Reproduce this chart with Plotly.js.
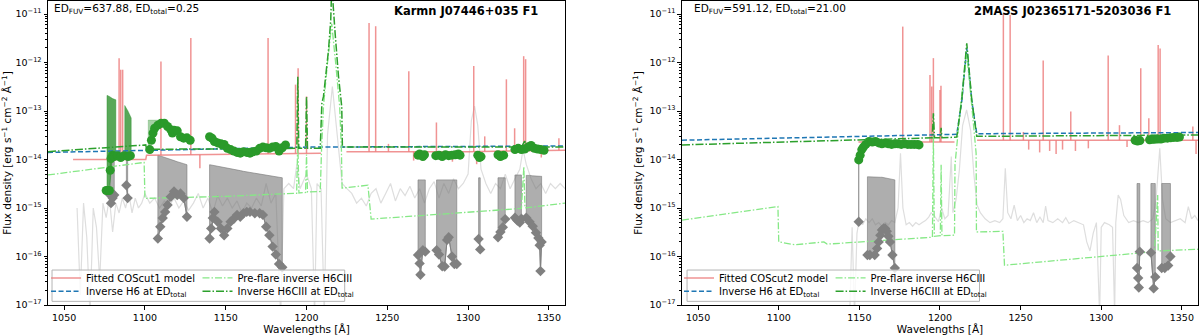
<!DOCTYPE html>
<html>
<head>
<meta charset="utf-8">
<script src="https://cdn.plot.ly/plotly-3.0.1.min.js"></script>
<style>
  body { margin: 0; background: #fff; }
  #chart { width: 1200px; height: 335px; }
</style>
</head>
<body>
<div id="chart"></div>
<script>
// ---------- left panel: Karmn J07446+035 F1 ----------
var leftSpecX = [1058,1060,1062,1064,1066,1068,1070,1072,1074,1076,1078,1080,1082,1084,1086,1088,1090,1092,1094,1096,1098,1100,
  1103,1106,1109,1112,1115,1118,1121,1124,1127,1130,1133,1136,1139,1142,1145,1148,1151,1154,1157,1160,1163,1166,1169,1172,1175,1178,1181,
  1184,1186,1189,1192,1194,1196,1200,1203,1205,1206.5,1209,1211,1213,1216,1219,1222,
  1225,1228,1231,1234,1237,1240,1243,1246,1249,1252,1255,1258,1261,1264,1267,1270,1273,1276,1279,1282,1285,1288,1291,1294,1297,1300,
  1302,1304,1306,1308,
  1311,1314,1317,1320,1323,1326,1329,1332,
  1334,1336,
  1339,1342,1345,1348,1351,1354,1357,1360];
var leftSpecY = [1e-15,1.6e-17,1.26e-15,2.5e-16,6e-18,1e-15,4e-16,3.2e-17,1.26e-15,6.3e-16,1.6e-15,3.2e-16,1.26e-15,7.9e-16,1.6e-15,1e-15,2e-15,7.9e-16,1.6e-15,1e-15,1.26e-15,2e-15,
  1.26e-15,1.6e-15,1e-15,1.4e-15,1.1e-15,1.6e-15,1e-15,1.4e-15,9e-16,1.26e-15,2e-15,1e-15,1.6e-15,7.9e-16,1.8e-15,1.1e-15,1.6e-15,1e-15,1.4e-15,7.9e-16,1.26e-15,1e-15,1.6e-15,1.1e-15,3.2e-15,1.26e-15,2e-15,
  6e-18,2.5e-15,3.2e-15,2.5e-15,7.9e-15,2.5e-15,5e-15,2.5e-15,6e-18,3.2e-15,2.5e-15,6e-18,3.2e-14,3.2e-13,3.2e-14,3.2e-15,
  2.5e-15,2e-15,1.26e-15,1.6e-15,1.1e-15,2e-15,2.5e-15,1.26e-15,2e-15,3.2e-15,1.4e-15,2.5e-15,1.8e-15,2.8e-15,1.6e-15,2.5e-15,1.26e-15,2.5e-15,3.5e-15,1.6e-15,3.2e-15,2e-15,4e-15,2.5e-15,3.2e-15,5e-15,
  6.3e-14,1.26e-13,5e-14,6.3e-15,
  3.2e-15,2e-15,3.2e-15,2.5e-15,5e-15,2.5e-15,4e-15,6.3e-15,
  1.6e-14,7.9e-15,
  4e-15,2.5e-15,3.2e-15,2e-15,3.2e-15,2.5e-15,3.2e-15,2.5e-15];

var leftRedX = [1055.5, 1100.5, 1101, 1209, null, 1224.7, 1300, 1360];
var leftRedY = [1.0e-14, 1.0e-14, 1.23e-14, 1.35e-14, null, 1.45e-14, 1.45e-14, 1.55e-14];
var leftLineX = [1084, 1085, 1086.2, 1109.9, 1128.4, 1134, 1176.2, 1193.2, 1194.8, 1200, 1238.7, 1242.8, 1250.7,
  1263.3, 1266.3, 1280.4, 1290.3, 1303.5, 1305.3, 1310.3, 1323.7, 1328.8, 1334.4, 1335.6, 1345.3, 1356.2];
var leftLineBase = [1.0e-14, 1.0e-14, 1.0e-14, 1.23e-14, 1.25e-14, 1.25e-14, 1.3e-14, 1.33e-14, 1.33e-14, 1.34e-14, 1.45e-14, 1.45e-14, 1.45e-14,
  1.45e-14, 1.45e-14, 1.45e-14, 1.45e-14, 1.45e-14, 1.45e-14, 1.47e-14, 1.5e-14, 1.5e-14, 1.5e-14, 1.5e-14, 1.52e-14, 1.55e-14];
var leftLinePeak = [1.23e-12, 7.1e-13, 7.1e-13, 1.05e-12, 3.2e-12, 6.6e-15, 3.2e-12, 3.5e-13, 7.6e-13, 2.0e-13, 6.5e-12, 5.6e-12, 2.1e-14,
  6.6e-13, 9.5e-15, 5.8e-14, 9e-15, 8.5e-13, 8e-15, 3.0e-14, 4.5e-13, 4.4e-14, 1.35e-12, 1.17e-12, 1.1e-14, 2.75e-14];

var leftH6X = [1040, 1200, 1360];
var leftH6Y = [1.4e-14, 1.8e-14, 1.9e-14];

var leftH6C3X = [1040, 1100.5, 1101, 1190, 1194, 1194.6, 1195.2, 1199.4, 1200, 1200.6, 1208.5, 1209.5, 1210.5,
  1213.6, 1215, 1215.6, 1216.4, 1217.7, 1219.8, 1221.2, 1221.8, 1222.2, 1333, 1335, 1337, 1360];
var leftH6C3Y = [1.45e-14, 2.0e-14, 1.62e-14, 1.7e-14, 1.7e-14, 5.1e-13, 1.7e-14, 1.7e-14, 2.0e-13, 1.7e-14, 1.7e-14, 1.45e-13, 2.0e-13,
  1.8e-12, 7.6e-12, 4.0e-11, 1.5e-11, 4.0e-12, 5.1e-13, 1.45e-13, 1.23e-13, 1.8e-14, 1.8e-14, 2.4e-14, 1.8e-14, 1.82e-14];

var leftPreC3X = [1040, 1099.5, 1100, 1150, 1192, 1193.9, 1194.6, 1195.3, 1199.4, 1200, 1200.6, 1208.5, 1209.3,
  1210.5, 1213, 1215.6, 1218, 1220.5, 1221.6, 1222, 1238, 1240, 1333, 1334.5, 1335.2, 1360];
var leftPreC3Y = [4.8e-15, 8.7e-15, 1.58e-15, 1.74e-15, 2.0e-15, 2.0e-15, 2.5e-14, 2.04e-15, 2.09e-15, 1.26e-14, 2.14e-15, 2.19e-15, 1.58e-14,
  1.26e-13, 1.0e-12, 6.3e-12, 1.0e-12, 1.26e-13, 1.58e-14, 2.57e-15, 2.95e-15, 5.9e-16, 9.8e-16, 7.1e-15, 1.0e-15, 1.26e-15];

var leftFlareX = [1076,1077,1078,1078.5,1079,1080,1081,1083,1085,1087,1089.5,1091,
  1103,1104,1105,1106,1108,1110,1112,1114,1116,1117,1118,1120,1122,1124,1126,1128,
  1140,1141.5,1143,1145,1147,1149,1151,1153,1155,1157,1159,1161,1163,1165,1167,1169,1171,1173,1175,1177,1179,1181,1183,1185,1187,
  1269,1270,1271,1272,1273,
  1280,1282,1284,1286,1288,1290,1292,1294,1295,
  1306,1307,1308,
  1318.5,1320,1322,
  1329,1331,1333,1335,1337,1339,1341,1343,1345,1347];
var leftFlareY = [2.3e-15,2.3e-15,2.3e-15,6e-15,1.05e-14,1.23e-14,1.15e-14,1.2e-14,1.1e-14,1.2e-14,1.15e-14,1.2e-14,
  1.6e-14,2.5e-14,3.5e-14,4.4e-14,5.1e-14,5.6e-14,5.6e-14,4.8e-14,4.1e-14,3.5e-14,4e-14,3.9e-14,2.95e-14,2.75e-14,2.8e-14,2.5e-14,
  2.95e-14,2.75e-14,2.35e-14,2.2e-14,2.1e-14,2.05e-14,1.7e-14,1.6e-14,1.5e-14,1.4e-14,1.35e-14,1.45e-14,1.4e-14,1.35e-14,1.45e-14,1.5e-14,1.7e-14,1.8e-14,1.75e-14,1.7e-14,1.8e-14,1.85e-14,1.5e-14,1.75e-14,2e-14,
  1.23e-14,1.3e-14,1.23e-14,1.15e-14,1.25e-14,
  1.2e-14,1.23e-14,1.15e-14,1.25e-14,1.2e-14,1.23e-14,1.25e-14,1.3e-14,1.23e-14,
  1.23e-14,1.1e-14,1.15e-14,
  1.25e-14,1.15e-14,1.23e-14,
  1.6e-14,1.7e-14,1.6e-14,1.65e-14,1.8e-14,1.95e-14,1.7e-14,1.65e-14,1.6e-14,1.55e-14];

var leftErrX = [1076.5, 1078, 1080, 1082, null, 1087.5, 1089.5, 1091.5];
var leftErrLo = [2.3e-15, 2.3e-15, 1.2e-14, 1.1e-14, null, 1.15e-14, 1.15e-14, 1.1e-14];
var leftErrHi = [2.1e-13, 2.0e-13, 1.8e-13, 1.7e-13, null, 1.3e-13, 1.0e-13, 7.2e-14];
var leftErr2X = [1102, 1105, 1108];
var leftErr2Lo = [1.6e-14, 3.5e-14, 5.1e-14];
var leftErr2Hi = [6.5e-14, 6.5e-14, 6.5e-14];

var leftPreX = [1078.5,1079,1080,1081,null, 1088.5,1089.3,null,
  1108,1109.5,1111,1112.5,1114,1116,1118,1120,1122,1124,1126,null,
  1140,1141,1142,1143,1145,1147,1149,1151,1153,1155,1157,1159,1161,1163,1165,1168,1171,1173,1175,1177,1179,1181,1183,1185,null,
  1269,1270,1270.5,1272,1273.5,null,
  1280.5,1282,1284,1285.5,1287,1288,1290,1291.5,1293,null,
  1306.5,1307.5,null,
  1318.5,1320,1321.5,1323,null,
  1329,1330.5,1332,1333,null,
  1336,1338,1340,1342,1343.5,1344.3,1344.8,1345.5];
var leftPreY = [1.86e-15,1.26e-15,1.6e-15,1.86e-15,null, 2.95e-15,1.6e-15,null,
  2.35e-16,4.1e-16,6.2e-16,8.3e-16,1.15e-15,1.7e-15,2.2e-15,1.86e-15,2e-15,1.6e-15,6.6e-16,null,
  2.35e-16,3.8e-16,6.2e-16,8.3e-16,5.2e-16,3.8e-16,2.75e-16,3.8e-16,5.2e-16,6e-16,7.2e-16,6.6e-16,7.8e-16,8.3e-16,8.3e-16,7.8e-16,7.8e-16,7.2e-16,4.1e-16,2.75e-16,1.6e-16,1.1e-16,7e-17,6e-17,null,
  1.07e-16,7.2e-17,4.2e-17,1.35e-16,1.26e-16,null,
  1.35e-16,1.1e-16,6.3e-17,6.2e-17,2.2e-16,2.5e-16,1e-16,7e-17,7e-17,null,
  2.3e-16,1.4e-16,null,
  2.5e-16,3.2e-16,4e-16,5.9e-16,null,
  6.3e-16,5.5e-16,5e-16,6e-16,null,
  6.3e-16,5.2e-16,4.2e-16,3.1e-16,2.4e-16,1.7e-16,5e-17,2e-16];
var leftPreHi = [9e-15,9e-15,9e-15,9e-15,null, 1.2e-14,1.2e-14,null,
  1.23e-14,1.2e-14,1.15e-14,1.1e-14,1.05e-14,1e-14,9.5e-15,9e-15,8.5e-15,8.2e-15,7.8e-15,null,
  7.8e-15,7.7e-15,7.6e-15,7.5e-15,7.3e-15,7.1e-15,6.9e-15,6.7e-15,6.5e-15,6.3e-15,6.1e-15,5.9e-15,5.7e-15,5.5e-15,5.3e-15,5.1e-15,4.9e-15,4.8e-15,4.7e-15,4.6e-15,4.5e-15,4.4e-15,4.3e-15,4.2e-15,null,
  3.8e-15,3.8e-15,3.8e-15,3.8e-15,3.8e-15,null,
  3.8e-15,3.8e-15,3.8e-15,3.8e-15,3.8e-15,3.8e-15,3.8e-15,3.8e-15,3.8e-15,null,
  4.2e-15,4.2e-15,null,
  4.2e-15,4.2e-15,4.2e-15,4.2e-15,null,
  4.8e-15,4.8e-15,4.8e-15,4.8e-15,null,
  4.7e-15,4.7e-15,4.6e-15,4.6e-15,4.5e-15,4.5e-15,4.5e-15,4.5e-15];

// ---------- right panel: 2MASS J02365171-5203036 F1 ----------
var rightSpecX = [1144,1145.5,1147,1148.5,1150,
  1152,1154,1156,1158,1160,1162,1164,1166,1168,1170,1172,
  1174,1175.5,1177,
  1179,1181,1183,1185,1187,1189,1191,1193,
  1194.5,1196,
  1199,1201,1203,1205,1207,1208,1210,1212,1214,1216.5,1219,1221,1223,1225,
  1228,1231,1234,1237,
  1239,1240.5,1242,1244,1246,1248,1250,1252,1254,1256,1258,1260,1262,1264,
  1265.5,1267,
  1270,1273,1276,1278,1280,1283,1286,1289,1291,1293,1295,1297,1299,1300,1302,1305,1307,1308.3,1309,1310.5,1312,1314,
  1317,1320,1323,1326,1329,1332,1334,1336.3,1338,1340,1343,1346,1349,1352,1354,1356,1358,1360];
var rightSpecY = [6e-18,4e-16,6e-18,3e-16,6e-16,
  4.5e-16,6e-16,5e-16,6e-16,4.5e-16,5e-16,4.2e-16,5e-16,4.5e-16,5.5e-16,5e-16,
  1e-15,1.35e-14,1e-15,
  4.5e-16,5e-16,4.2e-16,5e-16,4.5e-16,5e-16,5.5e-16,6.5e-16,
  8e-16,7.3e-16,
  5.2e-16,1e-15,6e-16,7e-16,1.15e-14,8e-16,1.5e-15,6e-15,5e-14,1.05e-13,4e-14,5e-15,1.15e-15,8e-16,
  6e-16,5e-16,5.5e-16,5e-16,
  6e-16,6.6e-15,8e-16,6e-16,1.15e-15,5.5e-16,7e-16,5e-16,6e-16,5.5e-16,8e-16,5e-16,6.5e-16,5e-16,
  1.1e-15,5.5e-16,
  5e-16,6e-16,5e-16,6.3e-16,4.8e-16,5.5e-16,5e-16,4.5e-16,2e-16,1.3e-16,3e-16,5e-16,6e-18,4e-16,5e-16,4.5e-16,4e-16,6e-18,5e-16,1.86e-15,1.5e-15,7e-16,
  5e-16,5.5e-16,5e-16,5.5e-16,5e-16,6e-16,1.5e-15,1.7e-14,1.5e-15,6e-16,5e-16,5.5e-16,6e-16,5e-16,1.07e-15,6e-16,7e-16,5.5e-16];

var rightRedX = [1149.4, 1209, null, 1223, 1360];
var rightRedY = [2.3e-14, 2.3e-14, null, 2.5e-14, 2.5e-14];
var rightLineX = [1176.9, 1193.8, 1194.9, 1195.9, 1200, 1200.6, 1239.3, 1243.5, 1251.7, 1255, 1261.8, 1264, 1268, 1272,
  1276, 1281.1, 1284, 1292, 1304.3, 1311.3, 1316, 1324.5, 1329.5, 1335.3, 1336.5, 1356.8, 1358.8];
var rightLineBase = [2.3e-14, 2.3e-14, 2.3e-14, 2.3e-14, 2.3e-14, 2.3e-14, 2.5e-14, 2.5e-14, 2.5e-14, 2.5e-14, 2.5e-14, 2.5e-14, 2.5e-14, 2.5e-14,
  2.5e-14, 2.5e-14, 2.5e-14, 2.5e-14, 2.5e-14, 2.5e-14, 2.5e-14, 2.5e-14, 2.5e-14, 2.5e-14, 2.5e-14, 2.5e-14, 2.5e-14];
var rightLinePeak = [5.5e-12, 5.5e-13, 3.2e-13, 1.23e-12, 2.7e-13, 3.3e-13, 1.0e-11, 9.5e-12, 3.7e-14, 1.6e-14, 1.4e-14, 1.1e-12, 1.5e-14, 1.3e-14,
  1.6e-14, 9.8e-14, 1.5e-14, 1.7e-14, 1.4e-12, 5.1e-14, 1.8e-14, 7.6e-13, 7.1e-14, 2.3e-12, 1.95e-12, 4.8e-14, 1.3e-14];

var rightH6X = [1040, 1200, 1210.4, 1213.5, 1215.3, 1216.6, 1217.9, 1219.7, 1222.8, 1360];
var rightH6Y = [2.5e-14, 3.2e-14, 3.3e-14, 1.6e-13, 7.0e-13, 2.0e-12, 7.0e-13, 1.6e-13, 3.4e-14, 3.6e-14];

var rightH6C3X = [1040, 1190, 1195.2, 1195.9, 1196.6, 1200.2, 1200.7, 1201.2, 1210.4, 1213.5, 1215.3, 1216.6, 1217.9, 1219.7, 1222.8, 1360];
var rightH6C3Y = [2.0e-14, 2.8e-14, 2.8e-14, 9.0e-14, 2.8e-14, 2.8e-14, 4.5e-14, 2.8e-14, 2.9e-14, 1.7e-13, 8.1e-13, 2.5e-12, 8.1e-13, 1.7e-13, 3.0e-14, 3.2e-14];

var rightPreC3X = [1040, 1099.5, 1100, 1110, 1128, 1130, 1195.3, 1195.9, 1196.5, 1200.2, 1200.7, 1201.2, 1209, 1209.3,
  1213, 1216.6, 1219.5, 1222.4, 1222.6, 1239, 1240, 1333, 1335, 1335.3, 1360];
var rightPreC3Y = [5.6e-16, 1.07e-15, 2.0e-16, 1.74e-16, 2.0e-16, 1.8e-16, 2.5e-16, 3.0e-14, 2.6e-16, 2.7e-16, 7.8e-15, 2.7e-16, 2.75e-16, 7.8e-15,
  1.5e-13, 1.5e-12, 1.5e-13, 1.35e-14, 3.2e-16, 3.3e-16, 6.6e-17, 1.26e-16, 1.86e-15, 1.3e-16, 1.41e-16];

var rightFlareX = [1149.6,1150.5,1151.5,1152.5,1154,1156,1158,1160,1162,1164,1166,1168,1170,1172,1174,1176,1178,1180,1182,1184,1186,1187,
  1321,1322.5,1324,
  1330,1331.5,1333,1335,1337,1339,1341,1343,1345,1347,1348.5];
var rightFlareY = [9.8e-15,1.23e-14,1.6e-14,1.8e-14,2.05e-14,2.35e-14,2.3e-14,2.35e-14,2.2e-14,2.1e-14,2.2e-14,2.1e-14,2.05e-14,2.1e-14,2.1e-14,2.05e-14,2.1e-14,2.05e-14,2.05e-14,2.05e-14,2.05e-14,2e-14,
  2.5e-14,2.4e-14,2.45e-14,
  2.55e-14,2.6e-14,2.6e-14,2.65e-14,2.65e-14,2.75e-14,2.75e-14,2.8e-14,2.85e-14,2.85e-14,2.9e-14];

var rightPreX = [1149.6,null,
  1155,1156.5,1159.5,1161,1162,1163,1164,1165,1166,1167,1168,1169,1170.5,1172,null,
  1322.2,1322.9,1323.3,1323.9,null,
  1330.8,1332.5,1333.5,null,
  1337.5,1339.4,1341.5,1342.9];
var rightPreY = [5.2e-16,null,
  1.07e-16,1.07e-16,1.07e-16,1.47e-16,2e-16,2.75e-16,3.5e-16,3.8e-16,3.8e-16,3.3e-16,2.6e-16,2e-16,1.07e-16,5.8e-17,null,
  5.8e-17,3.6e-17,2.3e-17,1.26e-16,null,
  1.2e-16,2.2e-17,3.8e-17,null,
  5.8e-17,5.8e-17,6.5e-17,1e-16];
var rightPreHi = [9.8e-15,null,
  4.4e-15,4.4e-15,4.4e-15,4.4e-15,4.3e-15,4.3e-15,4.3e-15,4.2e-15,4.2e-15,4.1e-15,4.1e-15,4e-15,3.9e-15,3.8e-15,null,
  3.2e-15,3.2e-15,3.2e-15,3.2e-15,null,
  3.2e-15,3.2e-15,3.2e-15,null,
  3.2e-15,3.2e-15,3.2e-15,3.2e-15];

var yTickVals = [1e-17, 1e-16, 1e-15, 1e-14, 1e-13, 1e-12, 1e-11];
var yTickText = ["10<sup>−17</sup>", "10<sup>−16</sup>", "10<sup>−15</sup>", "10<sup>−14</sup>",
  "10<sup>−13</sup>", "10<sup>−12</sup>", "10<sup>−11</sup>"];
var xTickVals = [1050, 1100, 1150, 1200, 1250, 1300, 1350];

// fill_between style polygons, one per null-separated segment
function bands(x, lo, hi) {
  var px = [], py = [], sx = [], sl = [], sh = [];
  function flush() {
    if (sx.length) {
      px = px.concat(sx, sx.slice().reverse(), [sx[0], null]);
      py = py.concat(sl, sh.slice().reverse(), [sl[0], null]);
    }
    sx = []; sl = []; sh = [];
  }
  for (var i = 0; i < x.length; i++) {
    if (x[i] === null) { flush(); continue; }
    sx.push(x[i]); sl.push(lo[i]); sh.push(hi[i]);
  }
  flush();
  return { x: px, y: py };
}

function spikes(x, base, peak) {
  var sx = [], sy = [];
  for (var i = 0; i < x.length; i++) {
    sx.push(x[i], x[i], null);
    sy.push(base[i], peak[i], null);
  }
  return { x: sx, y: sy };
}

var redCol = "rgba(236,120,120,0.8)";
var grayFill = "rgba(120,120,120,0.6)";

// legs: [model, pre-flare, H6, H6CIII] -> one small legend each (2x2 grid like matplotlib ncol=2)
function panel(xa, ya, legs, modelName, d) {
  var out = [];
  out.push({ x: d.specX, y: d.specY, xaxis: xa, yaxis: ya, mode: "lines", showlegend: false,
    line: { color: "#dedede", width: 1.2 }, hoverinfo: "skip" });
  var gb = bands(d.preX, d.preY, d.preHi);
  out.push({ x: gb.x, y: gb.y, xaxis: xa, yaxis: ya, mode: "lines", fill: "toself", fillcolor: grayFill,
    line: { color: grayFill, width: 1 }, showlegend: false, hoverinfo: "skip" });
  if (d.errX) {
    var eb = bands(d.errX, d.errLo, d.errHi);
    out.push({ x: eb.x, y: eb.y, xaxis: xa, yaxis: ya, mode: "lines", fill: "toself", fillcolor: "rgba(34,139,34,0.75)",
      line: { color: "rgba(34,139,34,0.75)", width: 0.5 }, showlegend: false, hoverinfo: "skip" });
    var eb2 = bands(d.err2X, d.err2Lo, d.err2Hi);
    out.push({ x: eb2.x, y: eb2.y, xaxis: xa, yaxis: ya, mode: "lines", fill: "toself", fillcolor: "rgba(34,139,34,0.4)",
      line: { color: "rgba(34,139,34,0.4)", width: 0.5 }, showlegend: false, hoverinfo: "skip" });
  }
  var sp = spikes(d.lineX, d.lineBase, d.linePeak);
  out.push({ x: sp.x, y: sp.y, xaxis: xa, yaxis: ya, mode: "lines", showlegend: false,
    line: { color: redCol, width: 1.5 }, hoverinfo: "skip" });
  out.push({ x: d.redX, y: d.redY, xaxis: xa, yaxis: ya, mode: "lines", name: modelName, legend: legs[0],
    line: { color: redCol, width: 1.5 } });
  out.push({ x: d.h6X, y: d.h6Y, xaxis: xa, yaxis: ya, mode: "lines", name: "Inverse H6 at ED<sub>total</sub>", legend: legs[2],
    line: { color: "#1f77b4", width: 1.5, dash: "5px,2.5px" } });
  out.push({ x: d.preC3X, y: d.preC3Y, xaxis: xa, yaxis: ya, mode: "lines", name: "Pre-flare inverse H6CIII", legend: legs[1],
    line: { color: "#86e886", width: 1.3, dash: "7px,2px,1.5px,2px" } });
  out.push({ x: d.h6c3X, y: d.h6c3Y, xaxis: xa, yaxis: ya, mode: "lines", name: "Inverse H6CIII at ED<sub>total</sub>", legend: legs[3],
    line: { color: "#2ca02c", width: 1.5, dash: "8px,2px,1.5px,2px" } });
  out.push({ x: d.preX, y: d.preY, xaxis: xa, yaxis: ya, mode: "lines+markers", showlegend: false,
    line: { color: "#808080", width: 1 }, marker: { symbol: "diamond", size: 8, color: "#808080" } });
  out.push({ x: d.flareX, y: d.flareY, xaxis: xa, yaxis: ya, mode: "markers", showlegend: false,
    marker: { symbol: "circle", size: 9, color: "#2a9a2a" } });
  return out;
}

var data = panel("x", "y", ["legend", "legend2", "legend3", "legend4"], "Fitted COScut1 model", {
  specX: leftSpecX, specY: leftSpecY, preX: leftPreX, preY: leftPreY, preHi: leftPreHi,
  errX: leftErrX, errLo: leftErrLo, errHi: leftErrHi, err2X: leftErr2X, err2Lo: leftErr2Lo, err2Hi: leftErr2Hi,
  lineX: leftLineX, lineBase: leftLineBase, linePeak: leftLinePeak, redX: leftRedX, redY: leftRedY,
  h6X: leftH6X, h6Y: leftH6Y, preC3X: leftPreC3X, preC3Y: leftPreC3Y, h6c3X: leftH6C3X, h6c3Y: leftH6C3Y,
  flareX: leftFlareX, flareY: leftFlareY
}).concat(panel("x2", "y2", ["legend5", "legend6", "legend7", "legend8"], "Fitted COScut2 model", {
  specX: rightSpecX, specY: rightSpecY, preX: rightPreX, preY: rightPreY, preHi: rightPreHi,
  lineX: rightLineX, lineBase: rightLineBase, linePeak: rightLinePeak, redX: rightRedX, redY: rightRedY,
  h6X: rightH6X, h6Y: rightH6Y, preC3X: rightPreC3X, preC3Y: rightPreC3Y, h6c3X: rightH6C3X, h6c3Y: rightH6C3Y,
  flareX: rightFlareX, flareY: rightFlareY
}));

var minorVals = [];
for (var e = -17; e <= -11; e++) {
  for (var m = 2; m <= 9; m++) minorVals.push(m * Math.pow(10, e));
}

function xAxis(dom, anchor) {
  return {
    domain: dom, anchor: anchor, range: [1040, 1360], tickmode: "array", tickvals: xTickVals,
    ticks: "outside", ticklen: 3.5, tickcolor: "#000", showgrid: false, zeroline: false,
    showline: true, mirror: true, linecolor: "#000", linewidth: 1,
    tickfont: { size: 9.5 }, title: { text: "Wavelengths [Å]", font: { size: 10.5 }, standoff: 3 }
  };
}
function yAxis(anchor) {
  return {
    anchor: anchor, type: "log", range: [-17, -10.732], tickmode: "array", tickvals: yTickVals, ticktext: yTickText,
    ticks: "outside", ticklen: 3.5, tickcolor: "#000", showgrid: false, zeroline: false,
    showline: true, mirror: true, linecolor: "#000", linewidth: 1,
    minor: { tickmode: "array", tickvals: minorVals, ticks: "outside", ticklen: 2, tickcolor: "#000", showgrid: false },
    tickfont: { size: 9.5 },
    title: { text: "Flux density [erg s<sup>−1</sup> cm<sup>−2</sup> Å<sup>−1</sup>]", font: { size: 10.5 }, standoff: 4 }
  };
}
// row centres sit at about 278 px and 292 px from the top, as in the reference
function legendAt(x, y) {
  return {
    x: x, y: y, xref: "paper", yref: "paper", xanchor: "left", yanchor: "middle",
    bgcolor: "rgba(0,0,0,0)", borderwidth: 0, font: { size: 10 }, itemwidth: 30, tracegroupgap: 0
  };
}
function frame(x0, x1) {
  return {
    type: "rect", xref: "paper", yref: "paper", x0: x0, x1: x1, y0: 0.012, y1: 0.115,
    line: { color: "#b4b4b4", width: 1 }, fillcolor: "rgba(255,255,255,0.8)", layer: "above"
  };
}
var row1 = 0.089, row2 = 0.045;

var layout = {
  width: 1200,
  height: 335,
  margin: { l: 48, r: 2, t: 1, b: 30 },
  paper_bgcolor: "#fff",
  plot_bgcolor: "#fff",
  font: { family: "DejaVu Sans", size: 9.5, color: "#000" },
  showlegend: true,
  xaxis: xAxis([0, 0.4496], "y"),
  yaxis: yAxis("x"),
  xaxis2: xAxis([0.5513, 1], "y2"),
  yaxis2: yAxis("x2"),
  legend: legendAt(-0.0017, row1),
  legend2: legendAt(0.13, row1),
  legend3: legendAt(-0.0017, row2),
  legend4: legendAt(0.13, row2),
  legend5: legendAt(0.5487, row1),
  legend6: legendAt(0.6805, row1),
  legend7: legendAt(0.5487, row2),
  legend8: legendAt(0.6805, row2),
  shapes: [frame(0.0035, 0.258), frame(0.5557, 0.81)],
  annotations: [
    { xref: "x domain", yref: "y domain", x: 0.008, y: 0.975, xanchor: "left", yanchor: "middle", showarrow: false,
      text: "ED<sub>FUV</sub>=637.88, ED<sub>total</sub>=0.25", font: { size: 10.5 } },
    { xref: "x domain", yref: "y domain", x: 0.952, y: 0.967, xanchor: "right", yanchor: "middle", showarrow: false,
      text: "<b>Karmn J07446+035 F1</b>", font: { size: 11.5 } },
    { xref: "x2 domain", yref: "y2 domain", x: 0.019, y: 0.975, xanchor: "left", yanchor: "middle", showarrow: false,
      text: "ED<sub>FUV</sub>=591.12, ED<sub>total</sub>=21.00", font: { size: 10.5 } },
    { xref: "x2 domain", yref: "y2 domain", x: 0.952, y: 0.967, xanchor: "right", yanchor: "middle", showarrow: false,
      text: "<b>2MASS J02365171-5203036 F1</b>", font: { size: 11.5 } }
  ]
};

Plotly.newPlot("chart", data, layout, { displayModeBar: false, responsive: false });
</script>
</body>
</html>
